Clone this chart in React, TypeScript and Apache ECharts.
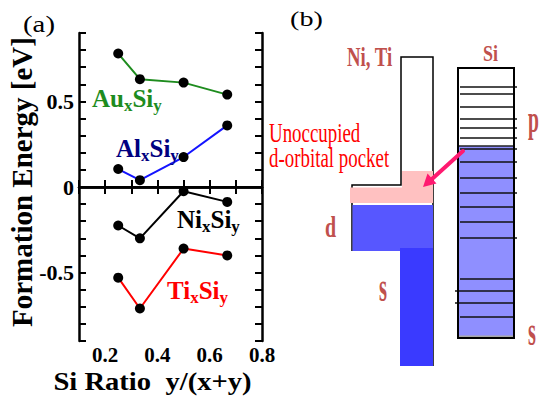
import React, { useEffect, useRef } from "react";
import * as echarts from "echarts";

// ---------- data (panel a) ----------
const siRatio = [0.25, 0.333, 0.5, 0.667];
const auSi = [0.78, 0.63, 0.61, 0.54];
const alSi = [0.105, 0.04, 0.175, 0.36];
const niSi = [-0.225, -0.3, -0.025, -0.087];
const tiSi = [-0.53, -0.71, -0.36, -0.4];
const xTickLabels = ["0.2", "0.4", "0.6", "0.8"];
const yTickLabels = ["-0.5", "0", "0.5"];
const compounds = ["Au", "Al", "Ni", "Ti"];

// ---------- schematic (panel b): Si level rows ----------
const siLevels = [87, 94, 107, 119, 128, 138, 149, 162, 178, 193, 207, 222, 238, 279, 291, 303, 317];
const siLevelsLongRight = [87, 119, 128, 138, 149, 162, 178, 193, 238];
const siLevelsLongLeft = [291, 303];

const SERIF = "'Liberation Serif', 'DejaVu Serif', serif";
const BROWN = "#C0504D";

function subLabel(name: string, color: string, x: number, y: number) {
  return {
    type: "text",
    x,
    y,
    z: 50,
    style: {
      text: `{m|${name}}{s|x}{m|Si}{s|y}`,
      textAlign: "left",
      textVerticalAlign: "middle",
      rich: {
        m: { fontSize: 25, fontWeight: "bold", fontFamily: SERIF, fill: color, color },
        s: { fontSize: 17, fontWeight: "bold", fontFamily: SERIF, fill: color, color, padding: [14, 0, 0, 0] },
      },
    },
  };
}

function txt(text: string, x: number, y: number, fontSize: number, color: string, opts: any = {}) {
  return {
    type: "text",
    x,
    y,
    scaleX: opts.scaleX ?? 1,
    scaleY: 1,
    rotation: opts.rotation ?? 0,
    z: 50,
    style: {
      text,
      fill: color,
      fontSize,
      fontFamily: SERIF,
      fontWeight: opts.bold ? "bold" : "normal",
      textAlign: opts.align ?? "left",
      textVerticalAlign: "middle",
      lineHeight: opts.lineHeight,
    },
  };
}

export default function App() {
  const ref = useRef<HTMLDivElement>(null);

  useEffect(() => {
    document.body.style.margin = "0";
    const chart = echarts.init(ref.current!, undefined, { renderer: "svg" });

    const xFmt = (v: number) => {
      const s = (Math.round(v * 10) / 10).toFixed(1);
      return xTickLabels.includes(s) ? s : "";
    };
    const yFmt = (v: number) => {
      const s = String(Math.round(v * 10) / 10);
      return yTickLabels.includes(s) ? s : "";
    };

    const axisCommon = {
      type: "value",
      axisLine: { show: true, lineStyle: { color: "#000", width: 2.5 } },
      axisTick: { show: true, inside: true, length: 7, lineStyle: { color: "#000", width: 2 } },
      splitLine: { show: false },
    };
    const labelStyle = { color: "#000", fontWeight: "bold", fontFamily: SERIF };

    const colors = ["#1E8C1E", "#1414FF", "#000000", "#FF0000"];
    const sets = [auSi, alSi, niSi, tiSi];

    const series: any[] = sets.map((vals, i) => ({
      type: "line",
      name: compounds[i],
      data: siRatio.map((x, j) => [x, vals[j]]),
      symbol: "circle",
      symbolSize: 10,
      itemStyle: { color: "#000" },
      lineStyle: { color: colors[i], width: 2 },
      z: 5,
    }));
    series[0].markLine = {
      silent: true,
      symbol: "none",
      label: { show: false },
      lineStyle: { color: "#000", width: 2, type: "solid" },
      data: [{ yAxis: 0 }],
    };

    // schematic elements
    const schem: any[] = [];
    schem.push({
      type: "polyline",
      shape: { points: [[352, 251], [352, 185], [401, 185], [401, 57], [433, 57], [433, 366]] },
      style: { stroke: "#000", lineWidth: 1.5, fill: null },
    });
    schem.push({
      type: "polygon",
      shape: { points: [[402, 171], [433, 171], [433, 203], [350, 203], [350, 187.5], [402, 187.5]] },
      style: { fill: "#FFC1C1" },
    });
    schem.push({ type: "rect", shape: { x: 352.5, y: 205, width: 80.5, height: 46 }, style: { fill: "#5757FF" } });
    schem.push({ type: "rect", shape: { x: 400, y: 248, width: 33, height: 118 }, style: { fill: "#3A3AFF" } });

    schem.push({ type: "rect", shape: { x: 458, y: 68, width: 56, height: 270 }, style: { fill: "#fff" } });
    schem.push({ type: "rect", shape: { x: 458, y: 146, width: 56, height: 191 }, style: { fill: "#8F8FFF" } });
    schem.push({ type: "rect", shape: { x: 459, y: 335.5, width: 54, height: 2.5 }, style: { fill: "#A9A9A9" } });
    siLevels.forEach((y) => {
      const x1 = siLevelsLongLeft.includes(y) ? 455 : 460;
      const x2 = siLevelsLongRight.includes(y) ? 517 : 514;
      schem.push({
        type: "line",
        shape: { x1, y1: y, x2, y2: y },
        style: { stroke: "#111", lineWidth: 1.5 },
      });
    });
    schem.push({
      type: "line",
      shape: { x1: 458, y1: 146, x2: 514, y2: 146 },
      style: { stroke: "#222", lineWidth: 1.5 },
    });
    schem.push({
      type: "rect",
      shape: { x: 458, y: 68, width: 56, height: 270 },
      style: { fill: null, stroke: "#000", lineWidth: 2 },
    });

    schem.push({
      type: "line",
      shape: { x1: 463, y1: 151, x2: 432, y2: 179 },
      style: { stroke: "#FF1A70", lineWidth: 4, lineCap: "round" },
    });
    schem.push({
      type: "polygon",
      shape: { points: [[423, 187], [436.5, 183.5], [427.5, 173.5]] },
      style: { fill: "#FF1A70" },
    });

    const texts: any[] = [
      txt("(a)", 39, 24, 23, "#000", { align: "center", scaleX: 1.25 }),
      txt("(b)", 306.5, 18, 22, "#000", { align: "center", scaleX: 1.28 }),
      txt("Formation Energy [eV]", 22, 182, 29, "#000", { bold: true, align: "center", rotation: Math.PI / 2 }),
      txt("Si Ratio\u00a0 y/(x+y)", 152.5, 381, 26, "#000", { bold: true, align: "center", scaleX: 1.1, lineHeight: 20 }),
      txt("Ni, Ti", 347, 56.5, 28, BROWN, { bold: true, scaleX: 0.67 }),
      txt("Si", 483, 53, 24, BROWN, { bold: true, scaleX: 0.75 }),
      txt("p", 528, 119.5, 37, BROWN, { bold: true, scaleX: 0.53 }),
      txt("d", 325, 227, 29, BROWN, { bold: true, scaleX: 0.69 }),
      txt("s", 379, 287, 41, BROWN, { bold: true, scaleX: 0.5 }),
      txt("s", 528, 332, 39, BROWN, { bold: true, scaleX: 0.52 }),
      txt("Unoccupied", 269, 133, 27, "#FF0000", { scaleX: 0.7 }),
      txt("d-orbital pocket", 269, 158, 27, "#FF0000", { scaleX: 0.7 }),
      subLabel("Au", "#1E8C1E", 92, 98),
      subLabel("Al", "#000080", 116, 148),
      subLabel("Ni", "#000000", 177, 219),
      subLabel("Ti", "#FF0000", 167, 290),
    ];

    chart.setOption({
      animation: false,
      backgroundColor: "#fff",
      grid: { left: 79, top: 33, width: 183, height: 308, outerBoundsMode: "none", containLabel: false },
      xAxis: [
        {
          ...axisCommon,
          position: "bottom",
          min: 0.1,
          max: 0.8,
          interval: 0.1,
          axisLabel: { ...labelStyle, fontSize: 21, lineHeight: 17, margin: 5.5, formatter: xFmt, showMinLabel: true, showMaxLabel: true, hideOverlap: false },
        },
        {
          ...axisCommon,
          position: "top",
          min: 0.1,
          max: 0.8,
          interval: 0.1,
          axisLabel: { show: false },
        },
      ],
      yAxis: [
        {
          ...axisCommon,
          position: "left",
          min: -0.9,
          max: 0.9,
          interval: 0.1,
          axisLabel: { ...labelStyle, fontSize: 22, margin: 5, formatter: yFmt, hideOverlap: false },
        },
        {
          ...axisCommon,
          position: "right",
          min: -0.9,
          max: 0.9,
          interval: 0.1,
          axisLabel: { show: false },
        },
      ],
      series,
      graphic: { elements: [...schem, ...texts] },
    });

    return () => chart.dispose();
  }, []);

  return <div ref={ref} style={{ width: 539, height: 399 }} />;
}
